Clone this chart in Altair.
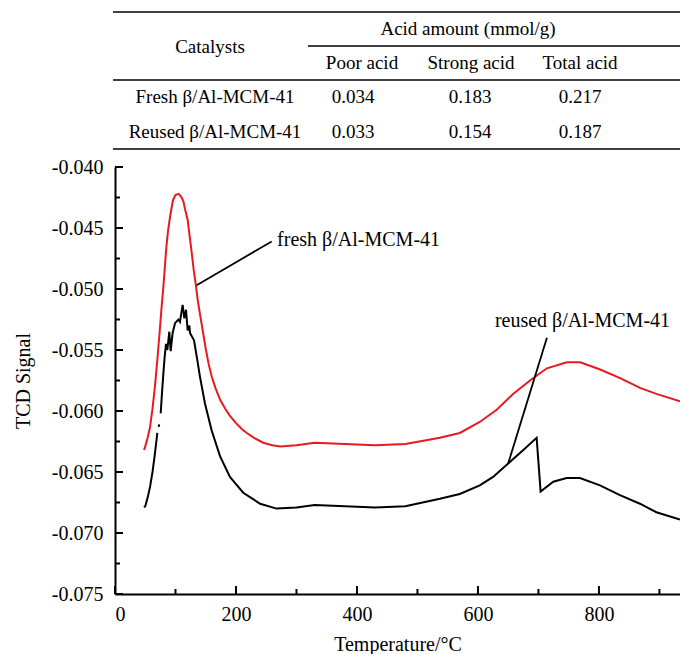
import altair as alt
import pandas as pd

# ---------------- data ----------------
fresh_T = [48, 50, 54, 58, 62, 66, 70, 74, 77, 80, 83, 85, 88, 91, 94, 96, 100, 105, 109, 113, 116,
           120, 123, 127, 130, 134, 137, 141, 145, 150, 155, 160, 166, 174, 182, 190, 200, 210, 218,
           230, 245, 260, 273, 300, 330, 380, 430, 480, 537, 570, 603, 631, 658, 686, 714, 747, 769,
           802, 835, 868, 895, 934]
fresh_v = [-0.0632, -0.0629, -0.0622, -0.0613, -0.0598, -0.0580, -0.0558, -0.0534, -0.0515, -0.0498,
           -0.0478, -0.0465, -0.0451, -0.0441, -0.0432, -0.0427, -0.0423, -0.0422, -0.0424, -0.0428,
           -0.0435, -0.0443, -0.0455, -0.0471, -0.0484, -0.0498, -0.0510, -0.0522, -0.0534, -0.0549,
           -0.0562, -0.0572, -0.0581, -0.0591, -0.0598, -0.0604, -0.0610, -0.0615, -0.0618, -0.0622,
           -0.0626, -0.0628, -0.0629, -0.0628, -0.0626, -0.0627, -0.0628, -0.0627, -0.0622, -0.0618,
           -0.0609, -0.0599, -0.0586, -0.0575, -0.0565, -0.0560, -0.0560, -0.0566, -0.0573, -0.0581,
           -0.0586, -0.0592]

reused1_T = [48, 50, 54, 58, 62, 66, 70]
reused1_v = [-0.0679, -0.0678, -0.0671, -0.0662, -0.0650, -0.0635, -0.0618]

reused_dot_T = [72.3, 73.0]
reused_dot_v = [-0.0613, -0.0611]

reused2_T = [75.5, 78, 80, 82, 84.3, 86.5, 89.8, 92, 95.3, 99.2, 104.7, 107.4, 111.8, 114.6, 117.4,
             120.1, 122.9, 124, 130.6, 135, 140.5, 148.8, 159.8, 173.6, 190, 212, 240, 267, 300, 330,
             380, 430, 480, 537, 570, 603, 625, 650, 675, 697, 703.6, 724.5, 746.6, 768.6, 801.7,
             834.7, 867.8, 895, 934]
reused2_v = [-0.0602, -0.0583, -0.0569, -0.0556, -0.0545, -0.0550, -0.0535, -0.0551, -0.0536, -0.0528,
             -0.0525, -0.0527, -0.0513, -0.0524, -0.0517, -0.0534, -0.0530, -0.0536, -0.0542, -0.0555,
             -0.0572, -0.0594, -0.0616, -0.0637, -0.0654, -0.0667, -0.0676, -0.0680, -0.0679, -0.0677,
             -0.0678, -0.0679, -0.0678, -0.0672, -0.0668, -0.0661, -0.0654, -0.0643, -0.0632, -0.0622,
             -0.0666, -0.0658, -0.0655, -0.0655, -0.0661, -0.0669, -0.0676, -0.0683, -0.0689]

series_names = ["fresh", "reused"]
label_texts = ["fresh \u03b2/Al-MCM-41", "reused \u03b2/Al-MCM-41"]

x_ticks = [0, 200, 400, 600, 800]
x_minor = [100, 300, 500, 700, 900]
y_ticks = [-0.040, -0.045, -0.050, -0.055, -0.060, -0.065, -0.070, -0.075]
y_minor = [-0.0425, -0.0475, -0.0525, -0.0575, -0.0625, -0.0675, -0.0725]

table_header = ["Catalysts", "Acid amount (mmol/g)"]
table_cols = ["Poor acid", "Strong acid", "Total acid"]
table_rows = ["Fresh \u03b2/Al-MCM-41", "Reused \u03b2/Al-MCM-41"]
poor_acid = ["0.034", "0.033"]
strong_acid = ["0.183", "0.154"]
total_acid = ["0.217", "0.187"]

# ---------------- layout ----------------
W, H = 565, 427
FONT = "Liberation Serif"
RED = "#e8191f"
XDOM = [0, 934]
YDOM = [-0.075, -0.040]

rows = []
for T, v in zip(fresh_T, fresh_v):
    rows.append({"T": T, "v": v, "series": "fresh", "seg": "fresh"})
for T, v in zip(reused1_T, reused1_v):
    rows.append({"T": T, "v": v, "series": "reused", "seg": "reused1"})
for T, v in zip(reused_dot_T, reused_dot_v):
    rows.append({"T": T, "v": v, "series": "reused", "seg": "reused_dot"})
for T, v in zip(reused2_T, reused2_v):
    rows.append({"T": T, "v": v, "series": "reused", "seg": "reused2"})
df = pd.DataFrame(rows)

xscale = alt.Scale(domain=XDOM, nice=False, zero=False)
yscale = alt.Scale(domain=YDOM, nice=False, zero=False)

lines = alt.Chart(df).mark_line(strokeWidth=2, clip=True).encode(
    x=alt.X("T:Q", scale=xscale,
            axis=alt.Axis(values=x_ticks, title="Temperature/\u00b0C", ticks=False, grid=False,
                          labelPadding=10, titlePadding=10)),
    y=alt.Y("v:Q", scale=yscale,
            axis=alt.Axis(values=y_ticks, title="TCD Signal", ticks=False, grid=False,
                          labelPadding=12, titlePadding=18,
                          labelExpr="replace(format(datum.value, '.3f'), '\u2212', '-')")),
    color=alt.Color("series:N", scale=alt.Scale(domain=series_names, range=[RED, "black"]), legend=None),
    detail="seg:N",
    order=alt.Order("T:Q"),
)

# inward ticks
xt = alt.Chart(pd.DataFrame({"t": x_ticks})).mark_rule(strokeWidth=2, color="black").encode(
    x=alt.X("t:Q", scale=xscale), y=alt.value(H), y2=alt.value(H - 8))
xtm = alt.Chart(pd.DataFrame({"t": x_minor})).mark_rule(strokeWidth=2, color="black").encode(
    x=alt.X("t:Q", scale=xscale), y=alt.value(H), y2=alt.value(H - 5))
yt = alt.Chart(pd.DataFrame({"v": y_ticks})).mark_rule(strokeWidth=2, color="black").encode(
    y=alt.Y("v:Q", scale=yscale), x=alt.value(0), x2=alt.value(8))
ytm = alt.Chart(pd.DataFrame({"v": y_minor})).mark_rule(strokeWidth=2, color="black").encode(
    y=alt.Y("v:Q", scale=yscale), x=alt.value(0), x2=alt.value(5))

# annotation leaders (data units)
lead = pd.DataFrame({
    "T1": [135, 650], "v1": [-0.0497, -0.0643],
    "T2": [259, 714], "v2": [-0.0461, -0.0540],
})
leaders = alt.Chart(lead).mark_rule(strokeWidth=1.8, color="black").encode(
    x=alt.X("T1:Q", scale=xscale), y=alt.Y("v1:Q", scale=yscale),
    x2="T2:Q", y2="v2:Q")
lab = pd.DataFrame({"T": [268, 628], "v": [-0.0460, -0.0526], "txt": label_texts})
labels = alt.Chart(lab).mark_text(font=FONT, fontSize=20, align="left", baseline="middle",
                                  color="black").encode(
    x=alt.X("T:Q", scale=xscale), y=alt.Y("v:Q", scale=yscale), text="txt:N")

# table (pixel placement relative to plot origin)
OX, OY = 115, 167
cells = [
    (table_header[0], 210, 47),
    (table_header[1], 468, 29),
    (table_cols[0], 362, 63), (table_cols[1], 471, 63), (table_cols[2], 580, 63),
    (table_rows[0], 215, 97), (poor_acid[0], 353, 97), (strong_acid[0], 470, 97), (total_acid[0], 580, 97),
    (table_rows[1], 215, 132), (poor_acid[1], 353, 132), (strong_acid[1], 470, 132), (total_acid[1], 580, 132),
]
table_layers = []
for txt, px, py in cells:
    table_layers.append(
        alt.Chart(pd.DataFrame({"t": [txt]})).mark_text(
            font=FONT, fontSize=19, align="center", baseline="middle", color="black"
        ).encode(x=alt.value(px - OX), y=alt.value(py - OY), text="t:N")
    )
rules_spec = [(113, 680, 12), (308, 680, 46), (113, 680, 80), (113, 680, 149)]
for x1, x2, yy in rules_spec:
    table_layers.append(
        alt.Chart(pd.DataFrame({"a": [0]})).mark_rule(strokeWidth=1.5, color="black").encode(
            x=alt.value(x1 - OX), x2=alt.value(x2 - OX), y=alt.value(yy - OY))
    )

chart = alt.layer(lines, xt, xtm, yt, ytm, leaders, labels, *table_layers).properties(
    width=W, height=H,
    autosize=alt.AutoSizeParams(type="none"),
    padding={"left": OX, "top": OY, "right": 0, "bottom": 60},
).configure_view(stroke=None).configure_axis(
    labelFont=FONT, titleFont=FONT, labelFontSize=20, titleFontSize=20,
    labelColor="black", titleColor="black", titleFontWeight="normal",
    domainColor="black", domainWidth=2,
)

chart.save("out.html", embed_options={"renderer": "svg", "actions": False})
